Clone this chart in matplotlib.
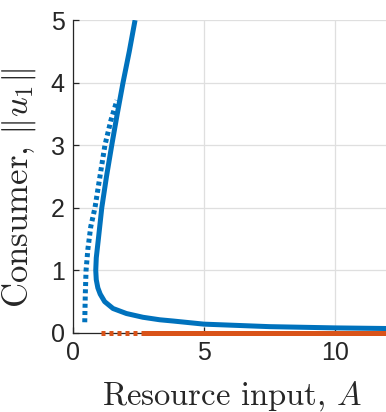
import matplotlib
matplotlib.use("Agg")
import matplotlib.pyplot as plt

# Stable branch of consumer (solid blue)
A_blue_solid = [2.37, 2.15, 1.91, 1.69, 1.48, 1.28, 1.10, 0.97, 0.89, 0.87, 0.89, 0.95, 1.04, 1.21, 1.53, 2.04, 2.67, 3.31, 3.82, 5.0, 7.5, 10.0, 12.0]
u_blue_solid = [5.0, 4.5, 4.0, 3.5, 3.0, 2.5, 2.0, 1.5, 1.2, 1.0, 0.85, 0.72, 0.62, 0.50, 0.39, 0.31, 0.25, 0.21, 0.19, 0.14, 0.10, 0.08, 0.07]

# Unstable branch of consumer (dotted blue)
A_blue_dot = [0.45, 0.47, 0.50, 0.57, 0.68, 0.84, 1.03, 1.22, 1.45, 1.68]
u_blue_dot = [0.17, 0.6, 1.0, 1.34, 1.7, 2.0, 2.5, 3.0, 3.4, 3.72]

# Trivial consumer state (orange)
A_orange_dot = [1.08, 2.61]
u_orange_dot = [0.0, 0.0]
A_orange_solid = [2.61, 12.0]
u_orange_solid = [0.0, 0.0]

xticks = [0, 5, 10]
yticks = [0, 1, 2, 3, 4, 5]

blue = "#0072BD"
orange = "#D95319"

plt.rcParams['mathtext.fontset'] = 'cm'
fig = plt.figure(figsize=(3.86, 4.12), dpi=100)
ax = fig.add_axes([0.189, 0.192, 0.8145, 0.759])

lw = 3.6
ax.plot(A_blue_solid, u_blue_solid, color=blue, lw=lw, solid_capstyle='butt',
        solid_joinstyle='round', zorder=3)
ax.plot(A_blue_dot, u_blue_dot, color=blue, lw=lw, dashes=(0.8, 0.65),
        dash_capstyle='butt', zorder=3)
ax.plot(A_orange_dot, u_orange_dot, color=orange, lw=lw, dashes=(0.8, 0.8),
        dash_capstyle='butt', clip_on=False, zorder=4)
ax.plot(A_orange_solid, u_orange_solid, color=orange, lw=lw, solid_capstyle='butt',
        clip_on=False, zorder=4)

ax.set_xlim(0, 12)
ax.set_ylim(0, 5)
ax.set_xticks(xticks)
ax.set_yticks(yticks)
ax.grid(True, color='#dfdfdf', lw=0.9)
ax.set_axisbelow(True)
for s in ['top', 'right']:
    ax.spines[s].set_visible(False)
for s in ['left', 'bottom']:
    ax.spines[s].set_color('#262626')
    ax.spines[s].set_linewidth(0.9)
ax.tick_params(direction='in', length=4, width=0.9, color='#262626', labelsize=18, pad=6)
for lab in ax.get_xticklabels() + ax.get_yticklabels():
    lab.set_fontfamily('Liberation Sans')
    lab.set_color('#262626')

xl = ax.set_xlabel(r'Resource input, $A$', fontsize=23.5, fontfamily='cmr10', color='#262626')
yl = ax.set_ylabel(r'Consumer, $\|u_1\|$', fontsize=25, fontfamily='cmr10', color='#262626')
xl.set_verticalalignment('baseline')
ax.xaxis.set_label_coords(0.506, -0.23)
yl.set_rotation_mode('anchor')
yl.set_verticalalignment('baseline')
ax.yaxis.set_label_coords(-0.143, 0.462)

fig.savefig('out.png', dpi=100)
